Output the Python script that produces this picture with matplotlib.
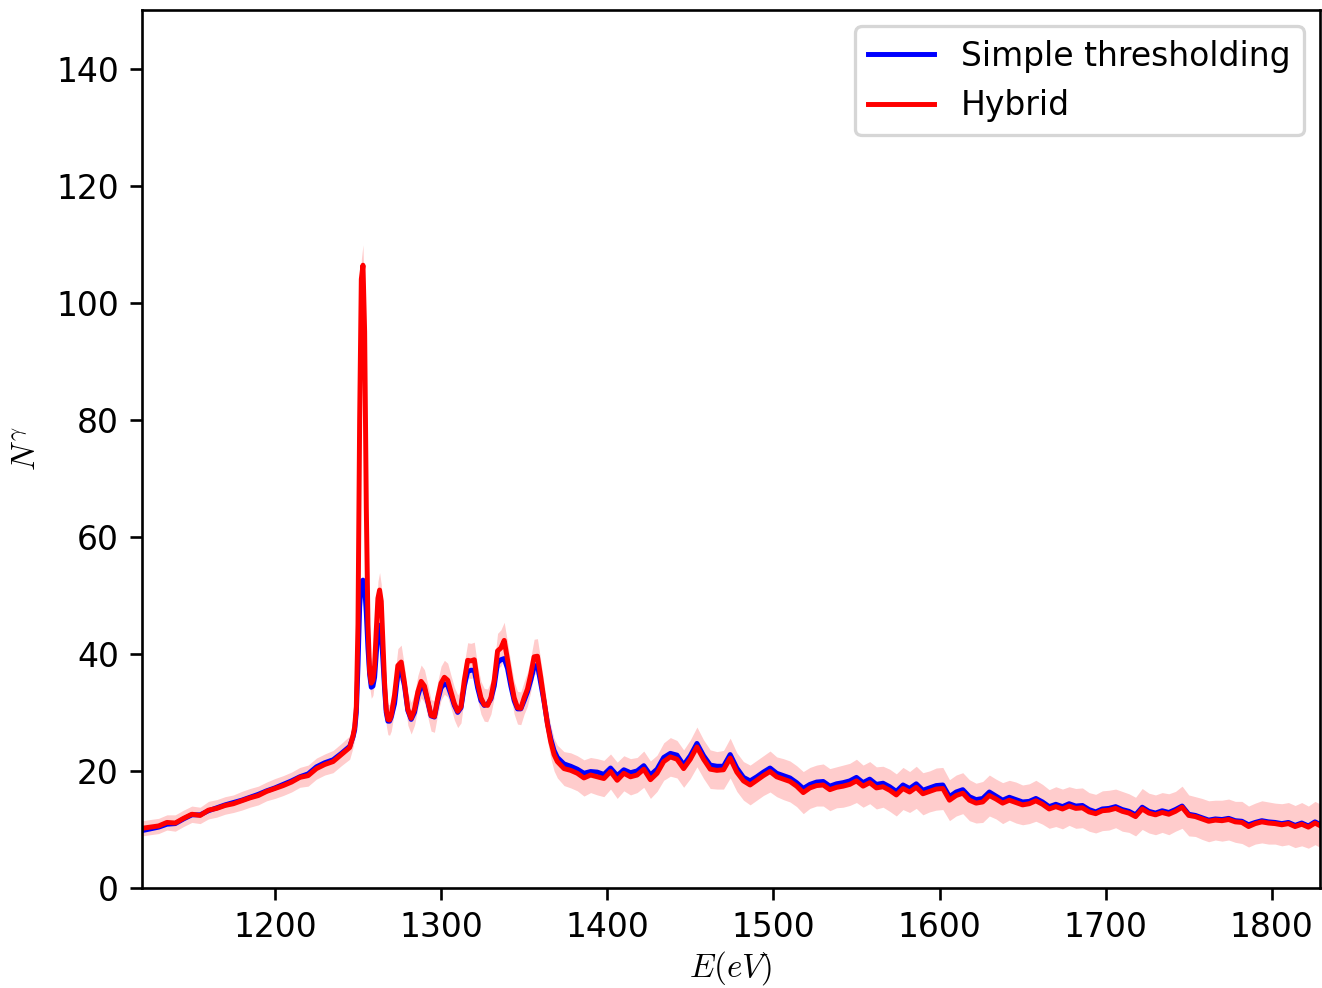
import numpy as np
import matplotlib
matplotlib.use('Agg')
import matplotlib.pyplot as plt

plt.rcParams['mathtext.fontset'] = 'cm'

# energy grid (eV): coarse before edge, fine around the white line, then coarse tail
E_pre = list(range(1120, 1246, 5))
E_peak = list(range(1247, 1271))
E_osc = list(range(1272, 1371, 2))
E_tail = list(range(1374, 1831, 4))

hybrid_pre = [10.2, 10.4, 10.6, 11.2, 11.1, 11.9, 12.6, 12.4, 13.3, 13.6, 14.1, 14.4, 14.9,
              15.4, 15.8, 16.5, 17.0, 17.5, 18.1, 18.9, 19.2, 20.4, 21.1, 21.6, 22.8, 24.0]
simple_pre = [9.8, 10.1, 10.4, 10.9, 11.0, 11.8, 12.5, 12.5, 13.2, 13.7, 14.2, 14.6, 15.0,
              15.5, 16.0, 16.6, 17.1, 17.7, 18.3, 19.0, 19.5, 20.7, 21.4, 21.9, 23.0, 24.2]
err_pre = [1.3, 1.3, 1.3, 1.3, 1.4, 1.4, 1.4, 1.4, 1.5, 1.5, 1.5, 1.5, 1.6,
           1.6, 1.6, 1.6, 1.7, 1.7, 1.7, 1.7, 1.8, 1.8, 1.8, 1.9, 1.9, 2.0]

hybrid_peak = [26.0, 27.5, 31.0, 45.0, 80.0, 104.0, 106.4, 95.0, 65.0, 45.0, 37.0, 35.0,
               35.5, 38.0, 44.0, 49.5, 50.9, 49.0, 42.0, 35.0, 30.5, 28.8, 28.7, 29.5]
simple_peak = [25.8, 27.0, 30.0, 38.0, 48.0, 52.3, 52.6, 51.5, 47.0, 41.0, 36.5, 34.3,
               34.5, 36.0, 40.0, 44.0, 44.9, 43.5, 39.0, 34.0, 30.0, 28.5, 28.5, 29.2]
err_peak = [2.0, 2.1, 2.2, 2.5, 3.0, 3.4, 3.5, 3.4, 3.0, 2.7, 2.6, 2.6,
            2.6, 2.7, 2.8, 2.9, 3.0, 2.9, 2.8, 2.7, 2.7, 2.6, 2.6, 2.7]

hybrid_osc = [33.0, 38.0, 38.6, 35.0, 30.5, 29.0, 30.5, 33.5, 35.3, 34.5,
              32.0, 29.5, 29.3, 32.5, 35.0, 36.0, 35.5, 33.5, 31.5, 30.2,
              31.0, 35.5, 38.9, 38.8, 39.0, 35.0, 32.5, 31.3, 31.2, 32.5,
              35.5, 40.5, 41.0, 42.3, 39.0, 35.5, 32.5, 30.8, 30.7, 32.5,
              34.0, 36.5, 39.5, 39.6, 36.0, 32.0, 28.0, 25.0, 22.8, 21.6]
simple_osc = [31.5, 36.5, 37.2, 34.5, 30.3, 28.8, 30.0, 32.8, 34.6, 34.0,
              31.8, 29.4, 29.2, 32.0, 34.2, 34.9, 34.6, 33.0, 31.2, 30.0,
              30.8, 34.5, 37.0, 37.2, 37.2, 34.2, 32.0, 31.2, 31.4, 32.3,
              34.5, 38.5, 39.0, 39.2, 37.5, 34.5, 32.0, 30.6, 30.6, 32.0,
              33.5, 35.5, 37.8, 38.1, 35.0, 31.8, 28.2, 25.5, 23.5, 22.3]
err_osc = [2.8, 2.9, 2.9, 2.8, 2.7, 2.7, 2.7, 2.8, 2.8, 2.8,
           2.8, 2.7, 2.7, 2.8, 2.9, 2.9, 2.9, 2.8, 2.8, 2.8,
           2.8, 2.9, 3.0, 3.0, 3.0, 2.9, 2.8, 2.8, 2.8, 2.8,
           2.9, 3.0, 3.1, 3.1, 3.0, 2.9, 2.8, 2.8, 2.8, 2.8,
           2.9, 2.9, 3.0, 3.0, 2.9, 2.9, 2.8, 2.8, 2.8, 2.8]

hybrid_tail = [20.4, 20.1, 19.6, 18.8, 19.3, 19.0, 18.7, 19.9, 18.4, 19.6,
               19.0, 19.3, 20.3, 18.5, 19.6, 21.6, 22.4, 22.0, 20.4, 22.0,
               24.1, 22.0, 20.3, 20.1, 20.2, 22.2, 19.8, 18.3, 17.6, 18.4,
               19.2, 19.9, 19.0, 18.6, 18.2, 17.4, 16.3, 17.1, 17.5, 17.6,
               16.8, 17.2, 17.4, 17.7, 18.3, 17.4, 18.0, 17.1, 17.3, 16.7,
               15.9, 17.0, 16.4, 17.2, 16.1, 16.5, 16.9, 17.0, 15.0, 15.8,
               16.2, 15.0, 14.5, 14.7, 15.8, 15.2, 14.5, 15.0, 14.6, 14.2,
               14.4, 14.9, 14.3, 13.5, 13.9, 13.5, 14.0, 13.6, 13.7, 13.0,
               12.7, 13.2, 13.3, 13.6, 13.1, 12.8, 12.2, 13.5, 12.8, 12.5,
               12.9, 12.6, 13.1, 13.8, 12.4, 12.2, 11.8, 11.4, 11.6, 11.5,
               11.7, 11.3, 11.2, 10.5, 11.0, 11.3, 11.1, 11.0, 10.8, 11.0,
               10.5, 10.9, 10.4, 11.1, 10.5]
simple_tail = [21.2, 20.8, 20.3, 19.6, 19.9, 19.8, 19.4, 20.5, 19.2, 20.2,
               19.7, 20.0, 20.9, 19.3, 20.3, 22.3, 23.0, 22.7, 21.0, 22.6,
               24.7, 22.6, 21.0, 20.8, 20.8, 22.8, 20.5, 18.9, 18.3, 19.0,
               19.8, 20.5, 19.6, 19.2, 18.8, 18.0, 17.0, 17.7, 18.1, 18.2,
               17.4, 17.8, 18.0, 18.3, 18.9, 18.0, 18.6, 17.7, 17.9, 17.3,
               16.5, 17.6, 17.0, 17.8, 16.7, 17.1, 17.5, 17.6, 15.6, 16.4,
               16.8, 15.6, 15.1, 15.3, 16.4, 15.7, 15.0, 15.5, 15.1, 14.7,
               14.8, 15.3, 14.7, 13.9, 14.3, 13.9, 14.4, 14.0, 14.1, 13.4,
               13.0, 13.5, 13.6, 13.9, 13.4, 13.1, 12.5, 13.8, 13.1, 12.8,
               13.2, 12.9, 13.4, 14.0, 12.6, 12.4, 12.0, 11.6, 11.8, 11.7,
               11.9, 11.5, 11.4, 10.8, 11.2, 11.5, 11.3, 11.2, 11.0, 11.2,
               10.7, 11.1, 10.6, 11.3, 10.7]
err_tail = [2.9, 3.0, 3.0, 3.1, 3.0, 3.1, 3.1, 3.0, 3.1, 3.0,
            3.1, 3.0, 3.1, 3.2, 3.1, 3.2, 3.3, 3.2, 3.2, 3.3,
            3.4, 3.3, 3.3, 3.2, 3.3, 3.4, 3.3, 3.3, 3.4, 3.4,
            3.4, 3.5, 3.4, 3.5, 3.5, 3.5, 3.6, 3.5, 3.5, 3.6,
            3.6, 3.5, 3.6, 3.6, 3.7, 3.6, 3.6, 3.6, 3.5, 3.6,
            3.6, 3.6, 3.5, 3.6, 3.6, 3.5, 3.6, 3.6, 3.5, 3.5,
            3.5, 3.5, 3.4, 3.5, 3.5, 3.4, 3.5, 3.4, 3.5, 3.4,
            3.4, 3.5, 3.4, 3.3, 3.4, 3.4, 3.3, 3.4, 3.4, 3.3,
            3.3, 3.4, 3.4, 3.3, 3.4, 3.3, 3.3, 3.5, 3.4, 3.4,
            3.4, 3.5, 3.4, 3.6, 3.5, 3.4, 3.5, 3.5, 3.4, 3.5,
            3.5, 3.5, 3.6, 3.5, 3.5, 3.6, 3.6, 3.5, 3.6, 3.6,
            3.6, 3.7, 3.6, 3.7, 3.7]

E = np.array(E_pre + E_peak + E_osc + E_tail, dtype=float)
simple = np.array(simple_pre + simple_peak + simple_osc + simple_tail)
hybrid = np.array(hybrid_pre + hybrid_peak + hybrid_osc + hybrid_tail)
err = np.array(err_pre + err_peak + err_osc + err_tail)

DPI = 237.5
fig = plt.figure(figsize=(1322 / DPI, 988 / DPI), dpi=DPI)
ax = fig.add_axes([142 / 1322, 100 / 988, 1178 / 1322, 878 / 988])

ax.plot(E, simple, color='b', label='Simple thresholding')
ax.plot(E, hybrid, color='r', label='Hybrid')
ax.fill_between(E, hybrid - err, hybrid + err, color='r', alpha=0.2, linewidth=0)

ax.set_xlim(1120, 1829)
ax.set_ylim(0, 150)
ax.set_xlabel(r'$E(eV)$', labelpad=1.5)
ax.set_ylabel(r'$N^\gamma$')
ax.legend(loc='upper right')

fig.savefig('out.png', dpi=DPI)
